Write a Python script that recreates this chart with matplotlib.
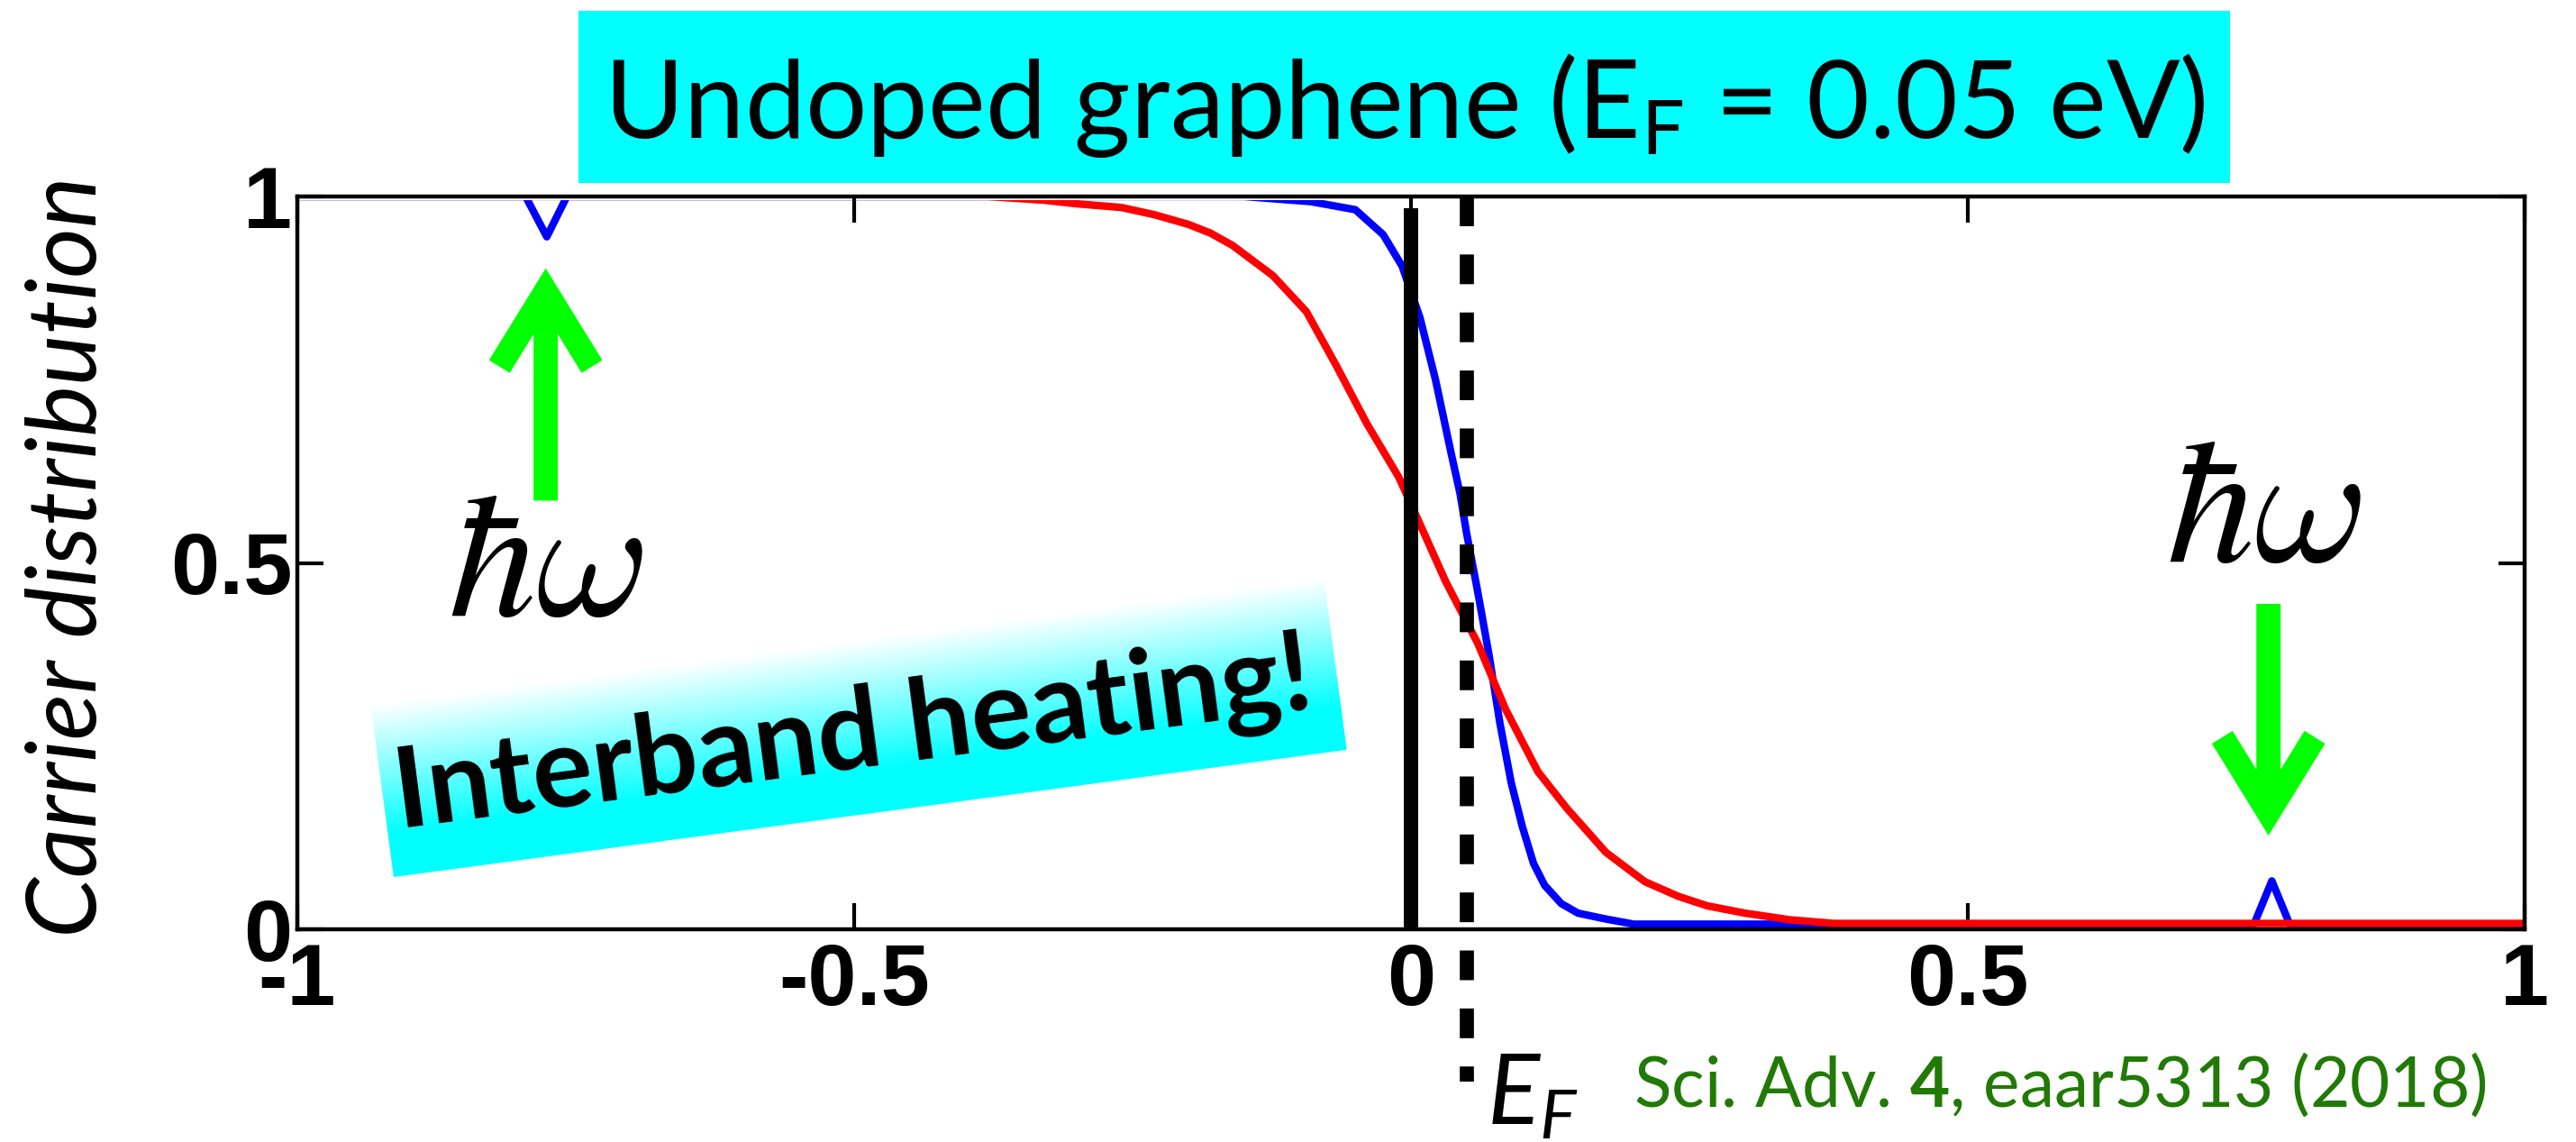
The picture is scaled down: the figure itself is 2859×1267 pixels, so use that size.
import numpy as np
import matplotlib
matplotlib.use("Agg")
import matplotlib.pyplot as plt
from matplotlib.patches import FancyArrowPatch, Rectangle
from matplotlib.transforms import Affine2D

plt.rcParams['mathtext.fontset'] = 'custom'
plt.rcParams['mathtext.rm'] = 'Lato'
plt.rcParams['mathtext.it'] = 'Lato:italic'
plt.rcParams['mathtext.bf'] = 'Lato:bold'

# Cold (blue) carrier distribution with the pump dip/peak at +-hbar*omega/2
energy_cold = [-1.0, -0.795, -0.776, -0.758, -0.15, -0.09, -0.05, -0.025, -0.008,
               0.008, 0.022, 0.036, 0.044, 0.05, 0.06, 0.07, 0.08, 0.09, 0.10,
               0.11, 0.12, 0.135, 0.15, 0.175, 0.20, 0.757, 0.773, 0.789, 1.0]
dist_cold = [1.0, 1.0, 0.945, 1.0, 1.0, 0.993, 0.982, 0.948, 0.905,
             0.835, 0.75, 0.65, 0.595, 0.54, 0.46, 0.375, 0.28, 0.20, 0.14,
             0.09, 0.06, 0.035, 0.022, 0.014, 0.007, 0.007, 0.066, 0.007, 0.007]

# Hot (red) carrier distribution after interband heating
energy_hot = [-1.0, -0.38, -0.33, -0.30, -0.26, -0.23, -0.20, -0.18, -0.16, -0.124,
              -0.094, -0.067, -0.04, -0.011, 0.006, 0.031, 0.06, 0.085, 0.114, 0.14,
              0.175, 0.21, 0.24, 0.266, 0.30, 0.34, 0.38, 1.0]
dist_hot = [1.0, 1.0, 0.995, 0.99, 0.985, 0.975, 0.962, 0.95, 0.933, 0.892,
            0.843, 0.769, 0.691, 0.617, 0.56, 0.475, 0.39, 0.30, 0.215, 0.165,
            0.105, 0.065, 0.045, 0.032, 0.022, 0.013, 0.008, 0.008]

fermi_level = 0.05
pump_left = -0.777
pump_right = 0.77

x_ticks = [-1, -0.5, 0, 0.5, 1]
x_tick_labels = ['-1', '-0.5', '0', '0.5', '1']
y_ticks = [0, 0.5, 1]
y_tick_labels = ['0', '0.5', '1']

W, H, DPI = 2859, 1267, 100
fig = plt.figure(figsize=(W / DPI, H / DPI), dpi=DPI)
ax = fig.add_axes([330 / W, 1 - 1031 / H, (2802 - 330) / W, (1031 - 218) / H])
renderer = fig.canvas.get_renderer()


def fit(txt, target, use_height=False):
    bb = txt.get_window_extent(renderer)
    cur = bb.height if use_height else bb.width
    txt.set_fontsize(txt.get_fontsize() * target / cur)


# keep the curves from showing through the top spine
clip = Rectangle((0, 0), 1, 0.995, transform=ax.transAxes, visible=False)
ax.add_patch(clip)

# curves
blue, = ax.plot(energy_cold, dist_cold, color='#0000ff', lw=6, zorder=2)
red, = ax.plot(energy_hot, dist_hot, color='#ff0000', lw=6, zorder=2.1)
blue.set_clip_path(clip)
red.set_clip_path(clip)
ax.plot([0, 0], [0, 0.984], color='black', lw=11.5, solid_capstyle='butt', zorder=2.2)
ax.plot([fermi_level, fermi_level], [1.0, -0.208], color='black', lw=11.3,
        linestyle=(0, (2.1, 2.0)), clip_on=False, zorder=2.2)

# pump arrows (end point is the arrow tip)
green = '#00ff00'
for x0, y0, y1 in [(pump_left, 0.585, 0.902), (pump_right, 0.444, 0.128)]:
    arr = FancyArrowPatch((x0, y0), (x0, y1), arrowstyle='->,head_length=3.0,head_width=1.85',
                          mutation_scale=20, lw=19.4, color=green, joinstyle='miter',
                          capstyle='butt', shrinkA=0, shrinkB=0, zorder=3)
    ax.add_patch(arr)

ax.text(pump_left, 0.428, r'$\hbar\omega$', math_fontfamily='cm', fontsize=140,
        ha='center', va='baseline')
ax.text(pump_right - 0.004, 0.502, r'$\hbar\omega$', math_fontfamily='cm', fontsize=140,
        ha='center', va='baseline')

ax.set_xlim(-1, 1)
ax.set_ylim(0, 1)
ax.set_xticks(x_ticks)
ax.set_xticklabels(x_tick_labels)
ax.set_yticks(y_ticks)
ax.set_yticklabels(y_tick_labels)
for lab in ax.get_xticklabels() + ax.get_yticklabels():
    lab.set_fontfamily('Liberation Sans')
    lab.set_fontweight('bold')
    lab.set_fontsize(70)
ax.tick_params(direction='in', length=21, width=3, top=True, right=True)
ax.tick_params(axis='x', pad=10)
ax.tick_params(axis='y', pad=4)
for sp in ax.spines.values():
    sp.set_linewidth(3.2)

# white-to-cyan gradient box behind "Interband heating!", built from thin rotated strips
box_w, box_h, box_ang = 1067, 192, 7.6
box_tr = Affine2D().rotate_deg(box_ang).translate(437, 294)
n_strips = 120
for i in range(n_strips):
    level = (i + 0.5) / n_strips
    r = float(np.clip((level - 0.25) / 0.75, 0, 1))
    strip = Rectangle((0, box_h * i / n_strips), box_w, box_h / n_strips + 0.8,
                      transform=box_tr, facecolor=(r, 1, 1), edgecolor='none',
                      lw=0, zorder=1)
    fig.add_artist(strip)

# title in a cyan box
fig.add_artist(Rectangle((642 / W, 1 - 203 / H), (2475 - 642) / W, 191 / H,
                         transform=fig.transFigure, facecolor='#00ffff',
                         edgecolor='none', zorder=1))
title = fig.text(1559 / W, 1 - 153 / H, r'Undoped graphene (E$_\mathrm{F}$ = 0.05 eV)',
                 family='Lato', fontsize=90, ha='center', va='baseline', zorder=2)
fit(title, 1778)

ylab = fig.text(107 / W, 1 - 618 / H, 'Carrier distribution', family='Lato', style='italic',
                fontsize=70, ha='center', va='baseline', rotation=90, rotation_mode='anchor')
fit(ylab, 846, use_height=True)

heat = fig.text(952 / W, 1 - 852 / H, 'Interband heating!', family='Lato', weight='bold',
                fontsize=90, ha='center', va='baseline', rotation_mode='anchor', zorder=2)
fit(heat, 1025)
heat.set_rotation(7.5)

fig.text(1650 / W, 1 - 1248 / H, r'$E_F$', fontsize=78, ha='left', va='baseline')

cite = fig.text(1813 / W, 1 - 1228 / H, r'Sci. Adv. $\mathbf{4}$, eaar5313 (2018)',
                family='Lato', color='#217a06', fontsize=55, ha='left', va='baseline')
fit(cite, 947)

fig.savefig('out.png', dpi=DPI)
